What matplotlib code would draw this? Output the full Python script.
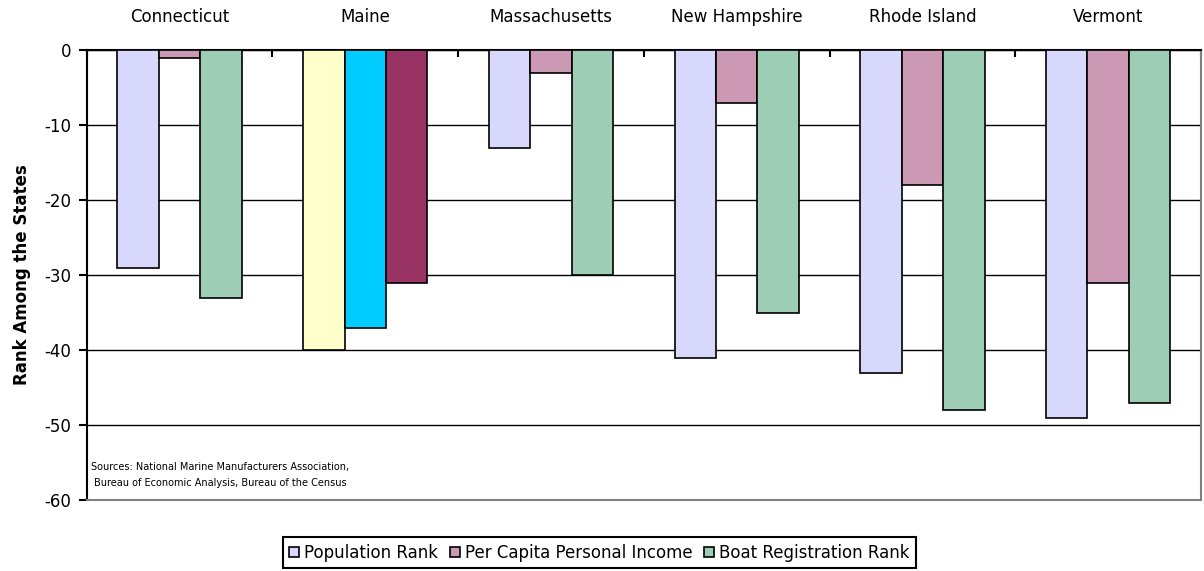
import matplotlib.pyplot as plt
import numpy as np

plt.rcParams['font.family'] = ['DejaVu Sans']
plt.rcParams['axes.unicode_minus'] = False

states = ['Connecticut', 'Maine', 'Massachusetts', 'New Hampshire', 'Rhode Island', 'Vermont']
pop_rank = [-29, -40, -13, -41, -43, -49]
income_rank = [-1, -37, -3, -7, -18, -31]
boat_rank = [-33, -31, -30, -35, -48, -47]

series_names = ['Population Rank', 'Per Capita Personal Income', 'Boat Registration Rank']
series_colors = ['#D8D8FC', '#CC99B4', '#9DCDB5']
maine_colors = ['#FFFFCC', '#00CCFF', '#993366']

fig = plt.figure(figsize=(12.04, 5.71), dpi=100)
ax = fig.add_axes([0.072, 0.1243, 0.9255, 0.7881])

x = np.arange(len(states))
w = 0.223
for i, (vals, name, col) in enumerate(zip([pop_rank, income_rank, boat_rank], series_names, series_colors)):
    cols = [maine_colors[i] if s == 'Maine' else col for s in states]
    ax.bar(x + (i - 1) * w, vals, width=w, color=cols, edgecolor='black',
           linewidth=1.2, zorder=3)
    # legend proxy uses the regular series colour
    ax.bar([0], [0], width=0, color=col, edgecolor='black', linewidth=1.2, label=name)

ax.set_xlim(-0.5, len(states) - 0.5)
ax.set_ylim(-60, 0)
ax.set_yticks(range(-60, 1, 10))
ax.yaxis.grid(True, color='black', linewidth=1.0, zorder=0)
ax.tick_params(axis='y', direction='out', length=6, width=1.5, labelsize=12, pad=5)

ax.xaxis.tick_top()
ax.set_xticks(x)
ax.set_xticklabels(states, fontsize=12)
ax.tick_params(axis='x', which='major', length=0, pad=17)
ax.set_xticks(np.arange(-0.5, len(states)), minor=True)
ax.tick_params(axis='x', which='minor', direction='in', length=5, width=1.5)

for s in ['left', 'top']:
    ax.spines[s].set_linewidth(1.5)
    ax.spines[s].set_color('black')
for s in ['right', 'bottom']:
    ax.spines[s].set_linewidth(1.5)
    ax.spines[s].set_color('#808080')

ax.set_ylabel('Rank Among the States', fontsize=12, fontweight='bold', labelpad=10)

ax.text(0.004, 0.055, 'Sources: National Marine Manufacturers Association,\n'
        'Bureau of Economic Analysis, Bureau of the Census',
        transform=ax.transAxes, fontsize=7, ha='left', va='center',
        multialignment='center', linespacing=1.7)

leg = fig.legend(loc='upper center', bbox_to_anchor=(0.498, 1 - 537 / 571), ncol=3, fontsize=12,
                 frameon=True, fancybox=False, edgecolor='black', framealpha=1,
                 handlelength=0.6, handleheight=0.6, handletextpad=0.3,
                 columnspacing=0.7, borderpad=0.4, borderaxespad=0)
leg.get_frame().set_linewidth(1.5)

fig.savefig('out.png', dpi=100)
